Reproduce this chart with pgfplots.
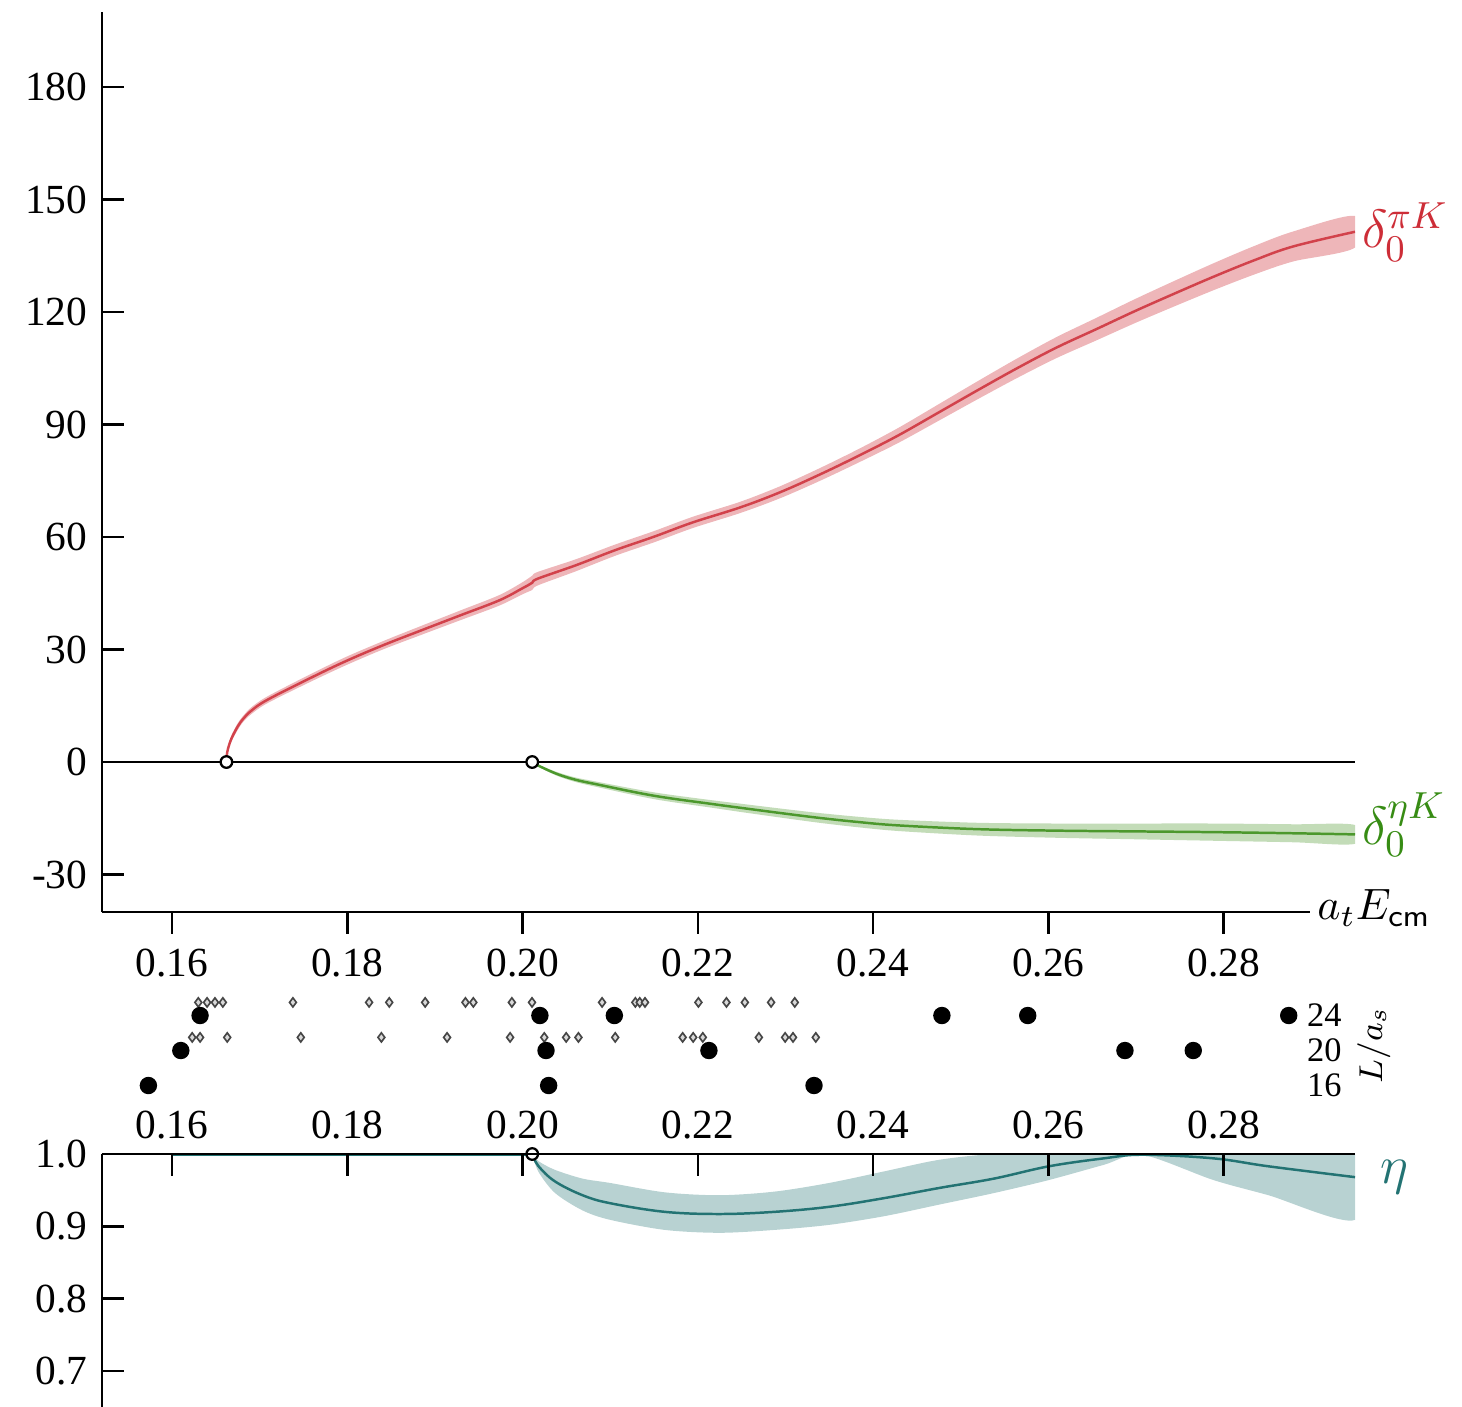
\RequirePackage{fix-cm}
\documentclass[border=0pt]{standalone}
\usepackage{fontspec}
\setmainfont{Liberation Serif}
\usepackage{pgfplots}
\pgfplotsset{compat=1.18}
\usepackage{pgfplotstable}

\definecolor{cred}{RGB}{205,45,55}
\definecolor{cgreen}{RGB}{55,140,20}
\definecolor{cteal}{RGB}{35,115,115}

\pgfplotstableread{
x y
0.1662 0
0.16625 1.9
0.1664 3.7
0.1668 6.4
0.1675 9.5
0.16811 11.5
0.1690 13.6
0.17073 16.4
0.17518 21.7
0.17964 26.7
0.18404 31.1
0.18843 35.1
0.19288 39.1
0.19733 43.1
0.19996 46.3
0.2011 47.8
0.20174 48.9
0.20612 52.5
0.21057 56.5
0.21502 60.1
0.21943 63.9
0.22484 67.9
0.22935 71.9
0.23386 76.6
0.23838 81.7
0.24288 87.1
0.24740 93.1
0.25190 99.1
0.25643 105.0
0.26092 110.5
0.26545 115.4
0.26994 120.3
0.27448 125.0
0.27895 129.5
0.28350 133.8
0.28797 137.5
0.29500 141.4
}\redtab

\pgfplotstableread{
x y
0.2011 0
0.20201 -1.2
0.20395 -3.2
0.20600 -4.7
0.20837 -5.9
0.21502 -9.0
0.22165 -11.2
0.22484 -12.2
0.22941 -13.6
0.23386 -14.9
0.23831 -16.0
0.24288 -16.9
0.25190 -17.9
0.26092 -18.3
0.26994 -18.5
0.27895 -18.7
0.28797 -19.0
0.29500 -19.3
}\greentab

\pgfplotstableread{
x c
0.20108 1.000
0.20183 0.983
0.20371 0.962
0.20684 0.943
0.20997 0.932
0.21623 0.920
0.22249 0.917
0.22876 0.920
0.23501 0.927
0.24128 0.939
0.24754 0.953
0.25380 0.966
0.26006 0.983
0.26633 0.994
0.27071 0.999
0.27884 0.994
0.28512 0.983
0.29500 0.968
}\etatab

\begin{document}
\begin{tikzpicture}
\useasboundingbox (0pt,0pt) rectangle (353.07pt,-339.55pt);

% ---------------- top panel ----------------
\begin{axis}[
  at={(24.63pt,-220.25pt)}, anchor=south west,
  scale only axis, width=302.6pt, height=217.35pt,
  xmin=0.152, xmax=0.295, ymin=-40, ymax=200,
  axis x line*=bottom, axis y line*=left,
  x axis line style={draw=none},
  y axis line style={-, line width=0.7pt},
  xtick={0.16,0.18,0.20,0.22,0.24,0.26,0.28},
  ytick={-30,0,30,60,90,120,150,180},
  xtick align=outside, ytick align=inside,
  major tick length=5.3pt,
  tick style={line width=0.6pt, black},
  /pgf/number format/assume math mode=true,
  ticklabel style={font=\fontsize{10}{12}\selectfont},
  x tick label style={/pgf/number format/fixed, /pgf/number format/fixed zerofill, /pgf/number format/precision=2},
  y tick label style={/pgf/number format/fixed},
  clip mode=individual,
]
% red band
\addplot[fill=cred, fill opacity=0.35, draw=none, smooth, tension=0.5] coordinates {
(0.1662,0) (0.16625,2.4) (0.1664,4.4) (0.1668,7.2) (0.1675,10.4) (0.16811,12.3) (0.1690,14.5) (0.17073,17.3) (0.17518,22.7) (0.17964,27.8) (0.18404,32.2) (0.18843,36.3) (0.19288,40.4) (0.19733,44.5) (0.19996,47.9) (0.2011,49.7) (0.20174,50.7) (0.20612,54.1) (0.21057,58.0) (0.21502,61.6) (0.21943,65.4) (0.22484,69.4) (0.22935,73.5) (0.23386,78.3) (0.23838,83.5) (0.24288,89.1) (0.24740,95.3) (0.25190,101.5) (0.25643,107.6) (0.26092,113.3) (0.26545,118.4) (0.26994,123.5) (0.27448,128.4) (0.27895,133.1) (0.28350,137.6) (0.28797,141.5) (0.29500,145.6)
(0.29500,137.2) (0.28797,133.5) (0.28350,130.0) (0.27895,125.9) (0.27448,121.6) (0.26994,117.1) (0.26545,112.4) (0.26092,107.7) (0.25643,102.4) (0.25190,96.7) (0.24740,90.9) (0.24288,85.1) (0.23838,79.9) (0.23386,74.9) (0.22935,70.3) (0.22484,66.4) (0.21943,62.4) (0.21502,58.6) (0.21057,55.0) (0.20612,50.9) (0.20174,47.1) (0.2011,45.9) (0.19996,44.7) (0.19733,41.7) (0.19288,37.8) (0.18843,33.9) (0.18404,30.0) (0.17964,25.6) (0.17518,20.7) (0.17073,15.5) (0.1690,12.7) (0.16811,10.7) (0.1675,8.6) (0.1668,5.6) (0.1664,3.0) (0.16625,1.4) (0.1662,0)
};
% green band
\addplot[fill=cgreen, fill opacity=0.3, draw=none, smooth, tension=0.5] coordinates {
(0.2011,0) (0.20201,-0.9) (0.20395,-2.7) (0.20600,-4.1) (0.20837,-5.2) (0.21502,-8.1) (0.22165,-10.2) (0.22484,-11.1) (0.22941,-12.4) (0.23386,-13.6) (0.23831,-14.6) (0.24288,-15.4) (0.25190,-16.2) (0.26092,-16.4) (0.26994,-16.4) (0.27895,-16.4) (0.28797,-16.6) (0.29500,-16.8)
(0.29500,-21.8) (0.28797,-21.4) (0.27895,-21.0) (0.26994,-20.6) (0.26092,-20.2) (0.25190,-19.6) (0.24288,-18.4) (0.23831,-17.4) (0.23386,-16.2) (0.22941,-14.8) (0.22484,-13.3) (0.22165,-12.2) (0.21502,-9.9) (0.20837,-6.6) (0.20600,-5.3) (0.20395,-3.7) (0.20201,-1.5) (0.2011,0)
};
\addplot[cgreen, line width=0.6pt, opacity=0.8] coordinates {(0.160,0) (0.2011,0)};
\addplot[cred, line width=0.6pt, opacity=0.7] coordinates {(0.160,0) (0.1662,0)};
\addplot[cgreen, line width=0.6pt, opacity=0.85, smooth, tension=0.6] table[x=x, y=y] {\greentab};
\addplot[cred, line width=0.6pt, opacity=0.85, smooth, tension=0.6] table[x=x, y=y] {\redtab};
\addplot[black, line width=0.7pt] coordinates {(0.152,0) (0.295,0)};
\addplot[only marks, mark=*, mark size=1.4pt, mark options={fill=white, draw=black, line width=0.55pt}] coordinates {(0.1662,0) (0.2011,0)};
\draw[black, line width=0.7pt] (axis cs:0.152,-40) -- (axis cs:0.2899,-40);
\node[anchor=west, text=cred, font=\fontsize{13}{15}\selectfont, inner sep=1.5pt] at (axis cs:0.295,141.4) {$\delta_0^{\pi K}$};
\node[anchor=west, text=cgreen, font=\fontsize{13}{15}\selectfont, inner sep=1.5pt, yshift=2.4pt] at (axis cs:0.295,-19.3) {$\delta_0^{\eta K}$};
\node[anchor=west, font=\fontsize{10.6}{12}\selectfont, inner sep=1.5pt, yshift=0.9pt] at (axis cs:0.2899,-40) {$a_t E_{\mathsf{cm}}$};
\end{axis}

% ---------------- middle strip ----------------
\begin{axis}[
  at={(24.63pt,-270.60pt)}, anchor=south west,
  scale only axis, width=289.32pt, height=33.81pt,
  xmin=0.152, xmax=0.28879, ymin=12, ymax=28,
  axis line style={draw=none},
  xtick=\empty, ytick={16,20,24},
  ytick pos=right, yticklabel pos=right,
  major tick length=0pt, tick style={draw=none},
  /pgf/number format/assume math mode=true,
  yticklabel style={font=\fontsize{8.3}{9}\selectfont, inner sep=1.5pt},
  clip=false,
]
\addplot[only marks, mark=diamond*, mark size=1.1pt, mark options={fill=gray!30, draw=gray!55!black, line width=0.4pt}] coordinates {
(0.1630,25.5) (0.1640,25.5) (0.1649,25.5) (0.1658,25.5) (0.1738,25.5) (0.1825,25.5) (0.1848,25.5) (0.1889,25.5) (0.1935,25.5) (0.1944,25.5) (0.1988,25.5) (0.2011,25.5) (0.2091,25.5) (0.2129,25.5) (0.2134,25.5) (0.2140,25.5) (0.2201,25.5) (0.2233,25.5) (0.2254,25.5) (0.2284,25.5) (0.2311,25.5)
};
\addplot[only marks, mark=diamond*, mark size=1.1pt, mark options={fill=gray!30, draw=gray!55!black, line width=0.4pt}] coordinates {
(0.1623,21.5) (0.1632,21.5) (0.1663,21.5) (0.1747,21.5) (0.1839,21.5) (0.1914,21.5) (0.1986,21.5) (0.2025,21.5) (0.2050,21.5) (0.2064,21.5) (0.2106,21.5) (0.2183,21.5) (0.2195,21.5) (0.2206,21.5) (0.2270,21.5) (0.2300,21.5) (0.2309,21.5) (0.2335,21.5)
};
\addplot[only marks, mark=*, mark size=1.9pt, black] coordinates {
(0.1632,24) (0.2020,24) (0.2105,24) (0.2479,24) (0.2577,24) (0.2875,24)
};
\addplot[only marks, mark=*, mark size=1.9pt, black] coordinates {
(0.1610,20) (0.2027,20) (0.2213,20) (0.2688,20) (0.2766,20)
};
\addplot[only marks, mark=*, mark size=1.9pt, black] coordinates {
(0.1573,16) (0.2030,16) (0.2333,16)
};
\node[rotate=90, font=\fontsize{8}{9}\selectfont] at ([xshift=17.8pt]rel axis cs:1,0.54) {$L/a_s$};
\end{axis}

% ---------------- bottom panel ----------------
\begin{axis}[
  at={(24.63pt,-339.79pt)}, anchor=south west,
  scale only axis, width=302.6pt, height=61.10pt,
  xmin=0.152, xmax=0.295, ymin=0.65, ymax=1.0,
  axis x line*=top, axis y line*=left,
  axis line style={-, line width=0.7pt},
  xtick={0.16,0.18,0.20,0.22,0.24,0.26,0.28},
  ytick={0.7,0.8,0.9,1.0},
  tick align=inside,
  major tick length=5.3pt,
  tick style={line width=0.6pt, black},
  /pgf/number format/assume math mode=true,
  ticklabel style={font=\fontsize{10}{12}\selectfont},
  x tick label style={/pgf/number format/fixed, /pgf/number format/fixed zerofill, /pgf/number format/precision=2},
  y tick label style={/pgf/number format/fixed, /pgf/number format/fixed zerofill, /pgf/number format/precision=1},
  axis on top,
  clip mode=individual,
]
\addplot[fill=cteal, fill opacity=0.32, draw=none, smooth, tension=0.5] coordinates {
(0.20108,1.000) (0.20183,0.990) (0.20371,0.978) (0.20684,0.966) (0.20997,0.960) (0.21623,0.947) (0.22249,0.943) (0.22876,0.948) (0.23501,0.960) (0.24128,0.976) (0.24754,0.992) (0.25380,1.000) (0.26006,1.000) (0.26633,1.000) (0.27071,1.000) (0.27884,1.000) (0.28512,1.000) (0.29500,1.000)
(0.29500,0.909) (0.28512,0.943) (0.27884,0.964) (0.27071,0.999) (0.26633,0.985) (0.26006,0.964) (0.25380,0.946) (0.24754,0.930) (0.24128,0.914) (0.23501,0.902) (0.22876,0.895) (0.22249,0.891) (0.21623,0.895) (0.20997,0.909) (0.20684,0.922) (0.20371,0.946) (0.20183,0.975) (0.20108,1.000)
};
\addplot[cteal, line width=0.6pt] coordinates {(0.160,0.999) (0.20108,0.999)};
\addplot[cteal, line width=0.6pt, smooth, tension=0.6] table[x=x, y=c] {\etatab};
\addplot[only marks, mark=*, mark size=1.4pt, mark options={fill=white, draw=black, line width=0.55pt}] coordinates {(0.2011,1.0)};
\node[anchor=west, text=cteal, font=\fontsize{13}{15}\selectfont, inner sep=1.5pt, xshift=4.5pt] at (axis cs:0.295,0.968) {$\eta$};
\end{axis}
\end{tikzpicture}
\end{document}
